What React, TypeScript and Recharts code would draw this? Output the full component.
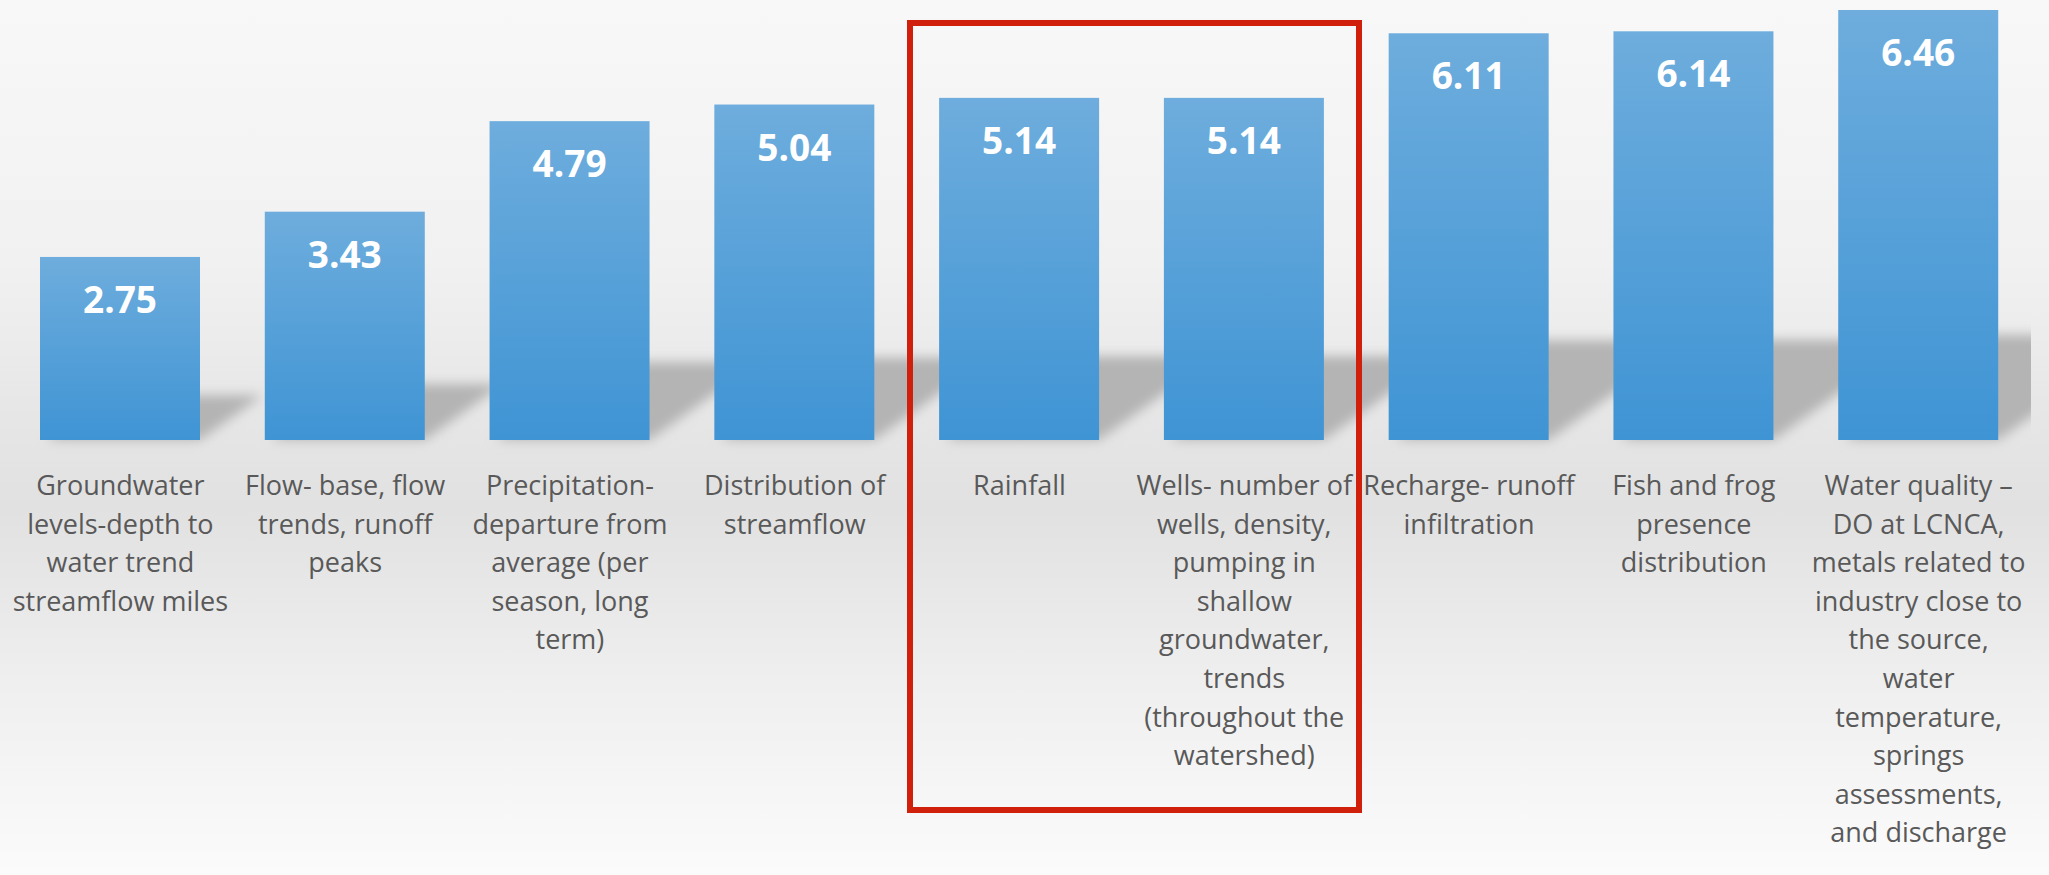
import { BarChart, Bar, XAxis, YAxis, LabelList } from "recharts";

const W = 2049;
const H = 875;

const categoryLines: string[][] = [
  ["Groundwater", "levels-depth to", "water trend", "streamflow miles"],
  ["Flow- base, flow", "trends, runoff", "peaks"],
  ["Precipitation-", "departure from", "average (per", "season, long", "term)"],
  ["Distribution of", "streamflow"],
  ["Rainfall"],
  [
    "Wells- number of",
    "wells, density,",
    "pumping in",
    "shallow",
    "groundwater,",
    "trends",
    "(throughout the",
    "watershed)",
  ],
  ["Recharge- runoff", "infiltration"],
  ["Fish and frog", "presence", "distribution"],
  [
    "Water quality –",
    "DO at LCNCA,",
    "metals related to",
    "industry close to",
    "the source,",
    "water",
    "temperature,",
    "springs",
    "assessments,",
    "and discharge",
  ],
];

const categories = categoryLines.map((l) => l.join(" "));
const scores = [2.75, 3.43, 4.79, 5.04, 5.14, 5.14, 6.11, 6.14, 6.46];

const data = categories.map((name, i) => ({ name, score: scores[i] }));

const MARGIN = { top: 10, right: 18, left: 8, bottom: 0 };

// bar with a skewed, blurred floor shadow behind it
function ShadowBar(props: any) {
  const { x, y, width, height } = props;
  if (!height) return null;
  const base = y + height;
  const hs = height * 0.245;
  const dx = hs * 1.4;
  const pts = [
    [x + 6, base],
    [x + width, base],
    [x + width + dx, base - hs],
    [x + dx + 6, base - hs],
  ]
    .map((p) => p.join(","))
    .join(" ");
  return (
    <g>
      <polygon
        points={pts}
        fill="#b4b4b4"
        filter="url(#shadowBlur)"
        clipPath="url(#plotClip)"
      />
      <rect x={x} y={y} width={width} height={height} fill="url(#barFill)" />
    </g>
  );
}

function ValueLabel(props: any) {
  const { x, y, width, value } = props;
  return (
    <text
      x={x + width / 2}
      y={y + 56}
      textAnchor="middle"
      fill="#ffffff"
      fontSize={37}
      fontWeight={700}
      fontFamily="'Open Sans', sans-serif"
    >
      {Number(value).toFixed(2)}
    </text>
  );
}

function CategoryTick(props: any) {
  const { x, y, payload } = props;
  const lines = categoryLines[payload.index] ?? [payload.value];
  return (
    <text
      x={x}
      y={y}
      textAnchor="middle"
      fill="#595959"
      fontSize={27}
      fontFamily="'Open Sans', sans-serif"
    >
      {lines.map((line, i) => (
        <tspan key={i} x={x} dy={i === 0 ? 55 : 38.6}>
          {line}
        </tspan>
      ))}
    </text>
  );
}

export default function App() {
  return (
    <div
      style={{
        position: "absolute",
        left: 0,
        top: 0,
        width: W,
        height: H,
        background:
          "linear-gradient(to bottom, #f8f8f8 0%, #f1f1f1 30%, #e6e6e6 48%, #e1e1e1 58%, #efefef 78%, #fbfbfb 100%)",
        overflow: "hidden",
      }}
    >
      <BarChart width={W} height={H} data={data} margin={MARGIN}>
        <defs>
          <linearGradient id="barFill" x1="0" y1="0" x2="0" y2="1">
            <stop offset="0%" stopColor="#6eaddd" />
            <stop offset="100%" stopColor="#3f94d4" />
          </linearGradient>
          <filter id="shadowBlur" x="-20%" y="-30%" width="140%" height="160%">
            <feGaussianBlur stdDeviation="6" />
          </filter>
          <clipPath id="plotClip">
            <rect x={0} y={0} width={W - MARGIN.right} height={H} />
          </clipPath>
        </defs>
        <XAxis
          dataKey="name"
          interval={0}
          axisLine={false}
          tickLine={false}
          tickSize={0}
          tickMargin={0}
          height={435}
          tick={<CategoryTick />}
        />
        <YAxis hide domain={[0, "dataMax"]} />
        <Bar
          dataKey="score"
          barSize={160}
          shape={<ShadowBar />}
          isAnimationActive={false}
        >
          <LabelList dataKey="score" content={<ValueLabel />} />
        </Bar>
      </BarChart>
      <div
        style={{
          position: "absolute",
          left: 907,
          top: 20,
          width: 455,
          height: 793,
          border: "6px solid #d0200b",
          boxSizing: "border-box",
          pointerEvents: "none",
        }}
      />
    </div>
  );
}
